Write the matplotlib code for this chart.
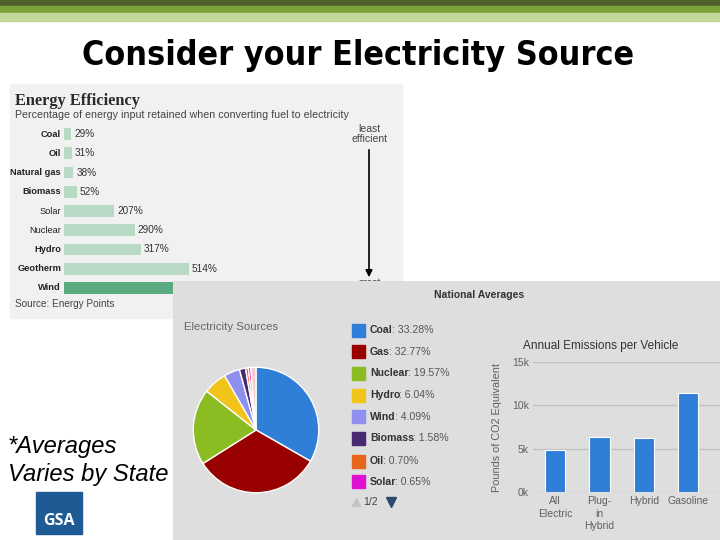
import matplotlib as mpl
mpl.use('Agg')

import numpy as np
import matplotlib.pyplot as plt
from matplotlib.patches import Rectangle

# --- data ---
eff_labels = ['Coal', 'Oil', 'Natural gas', 'Biomass', 'Solar', 'Nuclear', 'Hydro', 'Geotherm', 'Wind']
eff_values = [29, 31, 38, 52, 207, 290, 317, 514, 1164]

src_labels = ['Coal', 'Gas', 'Nuclear', 'Hydro', 'Wind', 'Biomass', 'Oil', 'Solar', 'Other']
src_values = [33.28, 32.77, 19.57, 6.04, 4.09, 1.58, 0.70, 0.65, 1.32]
src_colors = ['#2f7ed8', '#990000', '#8bbc21', '#f0c419', '#8f8ff0', '#492970', '#e8661c', '#e010d0', '#f6c8c8']

veh_labels = ['All\nElectric', 'Plug-\nin\nHybrid', 'Hybrid', 'Gasoline']
veh_values = [4800, 6300, 6200, 11400]
veh_ticks = [0, 5000, 10000, 15000]
veh_ticklabels = ['0k', '5k', '10k', '15k']

W, H = 720, 540
fig = plt.figure(figsize=(7.2, 5.4), dpi=100)


def box(x0, y0, w, h):
    return [x0 / W, 1 - (y0 + h) / H, w / W, h / H]


def fit(t, width):
    r = fig.canvas.get_renderer()
    w = t.get_window_extent(r).width
    t.set_fontsize(t.get_fontsize() * width / w)


# base layer in pixel coords
base = fig.add_axes([0, 0, 1, 1], zorder=0)
base.set_xlim(0, W)
base.set_ylim(H, 0)
base.axis('off')
base.add_patch(Rectangle((0, 0), W, 6, color='#4f5f2a'))
base.add_patch(Rectangle((0, 6), W, 7, color='#7ba33a'))
base.add_patch(Rectangle((0, 13), W, 8, color='#c4d89c'))

t = base.text(358, 56, 'Consider your Electricity Source', family='DejaVu Sans', weight='bold',
              fontstretch='condensed', fontsize=30, ha='center', va='center', color='black')
fit(t, 550)

# left panel: energy efficiency
base.add_patch(Rectangle((10, 84), 392, 234, color='#f1f1f1'))
t = base.text(15, 101, 'Energy Efficiency', family='Liberation Serif', weight='bold',
              fontsize=11, va='center', color='#2a2a2a')
fit(t, 125)
t = base.text(15, 115, 'Percentage of energy input retained when converting fuel to electricity',
              family='Liberation Sans', fontsize=7, va='center', color='#444444')
fit(t, 330)
base.text(15, 304, 'Source: Energy Points', family='Liberation Sans', fontsize=7.2,
          va='center', color='#444444')
base.text(369, 134, 'least\nefficient', family='Liberation Sans', fontsize=7.5,
          ha='center', va='center', color='#444444', linespacing=1.0)
base.annotate('', xy=(369, 280), xytext=(369, 147),
              arrowprops=dict(arrowstyle='-|>', color='black', lw=1.2, mutation_scale=10))
base.text(369, 283, 'most', family='Liberation Sans', fontsize=7.5, ha='center',
          va='center', color='#444444')

eff = fig.add_axes(box(64, 124.4, 338, 173.2), zorder=1)
eff.set_facecolor('none')
y = np.arange(len(eff_labels))
cols = ['#b8d9c4'] * (len(eff_labels) - 1) + ['#5aab80']
eff.barh(y, eff_values, height=0.62, color=cols)
eff.set_xlim(0, 338 / 0.2432)
eff.set_ylim(len(eff_labels) - 0.5, -0.5)
eff.axis('off')
for i, (lab, v) in enumerate(zip(eff_labels, eff_values)):
    eff.text(-12, i, lab, ha='right', va='center', family='Liberation Sans', fontsize=6.7,
             color='#222222', weight='normal' if lab in ('Solar', 'Nuclear') else 'bold')
    if i < len(eff_labels) - 1:
        eff.text(v + 12, i, f'{v}%', ha='left', va='center', family='Liberation Sans',
                 fontsize=7.2, color='#333333')

# overlay panel
pan = fig.add_axes(box(173, 281, 547, 259), zorder=2)
pan.set_xlim(173, 720)
pan.set_ylim(540, 281)
pan.axis('off')
pan.add_patch(Rectangle((173, 281), 547, 259, color='#dedede'))
pan.text(479, 295, 'National Averages', family='Liberation Sans', weight='bold',
         fontsize=7.5, ha='center', va='center', color='#333333')
pan.text(184, 327, 'Electricity Sources', family='Liberation Sans', fontsize=8.2,
         va='center', color='#666666')

rows = [330, 351.7, 373.3, 395, 416.7, 438.3, 461, 481.7]
r = fig.canvas.get_renderer()
for yy, lab, v, c in zip(rows, src_labels, src_values, src_colors):
    pan.add_patch(Rectangle((352, yy - 6.5), 13, 13, color=c))
    tn = pan.text(370, yy, lab, family='Liberation Sans', weight='bold', fontsize=7.6,
                  va='center', color='#333333')
    bb = tn.get_window_extent(r)
    xe = pan.transData.inverted().transform((bb.x1, bb.y0))[0]
    pan.text(xe - 1, yy, f': {v:.2f}%', family='Liberation Sans', fontsize=7.6,
             va='center', color='#555555')
pan.plot([356], [502], marker='^', ms=6, color='#c4c4c4', ls='none')
pan.text(363, 502, '1/2', family='Liberation Sans', fontsize=7.5, va='center', color='#444444')
pan.plot([391], [502], marker='v', ms=7, color='#2b4a6e', ls='none')

# pie
pie = fig.add_axes(box(192, 366, 128, 128), zorder=3)
pie.pie(src_values, colors=src_colors, startangle=90, counterclock=False,
        wedgeprops=dict(edgecolor='white', linewidth=1))
pie.set_xlim(-1.02, 1.02)
pie.set_ylim(-1.02, 1.02)
pie.set_aspect('equal')

# vehicle emissions bar chart
bx = fig.add_axes(box(533, 362, 187, 130), zorder=3)
bx.set_facecolor('none')
xs = np.arange(len(veh_labels))
bx.bar(xs, veh_values, width=0.46, color='#2f7ed8', edgecolor='white', linewidth=0.8, zorder=3)
bx.set_xlim(-0.5, -0.5 + 187 / 44.3)
bx.set_ylim(0, 15000)
bx.set_yticks(veh_ticks)
bx.set_yticklabels(veh_ticklabels)
bx.set_xticks(xs)
bx.set_xticklabels(veh_labels, linespacing=1.3)
bx.grid(axis='y', color='#c2c2c2', lw=1, zorder=0)
for s in bx.spines.values():
    s.set_visible(False)
bx.tick_params(length=0, labelsize=7.5, labelcolor='#606060', pad=3)
for lab in bx.get_xticklabels() + bx.get_yticklabels():
    lab.set_family('Liberation Sans')
bx.set_ylabel('Pounds of CO2 Equivalent', family='Liberation Sans', fontsize=7.8,
              color='#606060', labelpad=7)
bx.set_title('Annual Emissions per Vehicle', family='Liberation Sans', fontsize=8.5,
             color='#333333', x=0.36, pad=9)

# bottom-left note and logo
t = base.text(8, 447, '*Averages', family='Liberation Sans', style='italic', fontsize=16,
              va='center', color='black')
t2 = base.text(8, 475, 'Varies by State', family='Liberation Sans', style='italic', fontsize=16,
               va='center', color='black')
fit(t2, 160)
t.set_fontsize(t2.get_fontsize())
base.add_patch(Rectangle((36, 492), 46, 42, color='#1e5b94'))
base.text(59, 521, 'GSA', family='Open Sans', weight='bold', fontsize=11.5, ha='center',
          va='center', color='white')

plt.savefig('out.png', dpi=100)
